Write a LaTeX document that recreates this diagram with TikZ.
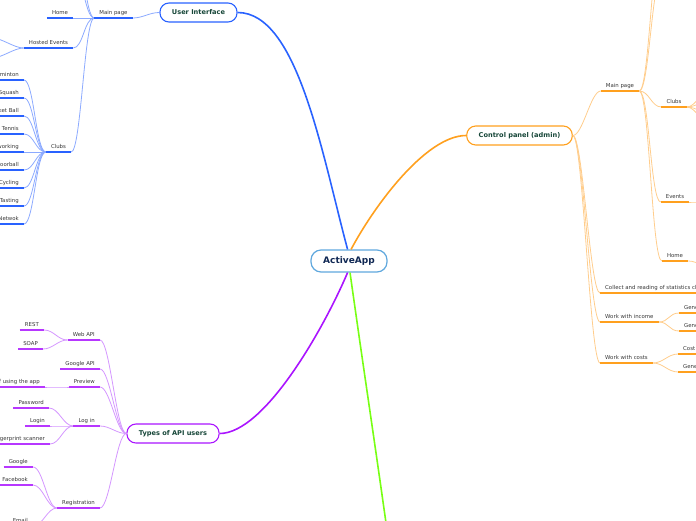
\documentclass[tikz,border=0pt]{standalone}
\usepackage{fontspec}
\setmainfont{DejaVu Sans}
\usepackage{tikz}
\usetikzlibrary{positioning}
\definecolor{rootblue}{RGB}{96,168,222}
\definecolor{navytext}{RGB}{16,40,84}
\definecolor{topicgreen}{RGB}{22,70,56}
\definecolor{leafgray}{RGB}{55,55,55}
\definecolor{uiblue}{RGB}{41,98,255}
\definecolor{uilight}{RGB}{140,170,255}
\definecolor{adminorange}{RGB}{255,160,30}
\definecolor{adminlight}{RGB}{255,205,140}
\definecolor{apipurple}{RGB}{170,20,255}
\definecolor{apilight}{RGB}{212,150,255}
\definecolor{limegreen}{RGB}{120,255,20}

\begin{document}
\begin{tikzpicture}[x=1pt,y=-1pt]
  \tikzstyle{root} = [rectangle, rounded corners=10pt, minimum width=76pt, minimum height=22pt, draw=rootblue, line width=1.2pt, fill=white, text=navytext, font=\fontsize{9}{10}\selectfont\bfseries]
  \tikzstyle{topic} = [rectangle, rounded corners=9pt, minimum height=19pt, inner xsep=12pt, line width=1.1pt, fill=white, text=topicgreen, font=\fontsize{6.6}{7}\selectfont\bfseries]
  \tikzstyle{leaf} = [anchor=south, inner xsep=5pt, inner ysep=2pt, text height=4.2pt, text depth=1.3pt, text=leafgray, font=\fontsize{5.4}{6}\selectfont]
  \tikzstyle{branch} = [line width=1.6pt]
  \tikzstyle{link} = [line width=0.8pt, distance=10pt]
  \tikzstyle{uline} = [line width=1.6pt]

  \useasboundingbox (0,0) rectangle (696,520);
  \clip (0,0) rectangle (696,520);

  \node (app) [root] at (349,261) {ActiveApp};
  \node (ui) [topic, draw=uiblue] at (198.5,12.5) {User Interface};
  \node (ctrl) [topic, draw=adminorange] at (519.5,135.5) {Control panel (admin)};
  \node (api) [topic, draw=apipurple] at (173,433.5) {Types of API users};
  \coordinate (more) at (387,530);

  \draw [branch, uiblue] (app.97) to[out=105, in=0, out distance=100pt, in distance=60pt] (ui.east);
  \draw [branch, adminorange] (app.80) to[out=62, in=180, out distance=50pt, in distance=40pt] (ctrl.west);
  \draw [branch, apipurple] (app.-97) to[out=-113, in=0, out distance=60pt, in distance=45pt] (api.east);
  \draw [branch, limegreen] (app.-85) to[out=-82, in=98] (more);

  % user interface
  \node (uimain) [leaf] at (113.5,18) {Main page};
  \node (uihome) [leaf] at (60,18) {Home};
  \node (uihosted) [leaf] at (48.5,48) {Hosted Events};
  \node (uiclubs) [leaf] at (58.5,152) {Clubs};
  \node (badminton) [leaf, anchor=south east] at (24,80) {Badminton};
  \node (squash) [leaf, anchor=south east] at (24,98) {Squash};
  \node (basket) [leaf, anchor=south east] at (24,116) {Basket Ball};
  \node (tennis) [leaf, anchor=south east] at (24,134) {Table Tennis};
  \node (networking) [leaf, anchor=south east] at (24,152) {Networking};
  \node (football) [leaf, anchor=south east] at (24,170) {Foorball};
  \node (cycling) [leaf, anchor=south east] at (24,188) {Cycling};
  \node (tasting) [leaf, anchor=south east] at (24,206) {Tasting};
  \node (netwok) [leaf, anchor=south east] at (24,224) {Netwok};
  \coordinate (uiup1) at (72,-35);
  \coordinate (uiup2) at (72,-70);
  \coordinate (hostA) at (-8,38);
  \coordinate (hostB) at (-8,58);

  \draw [link, uilight] (ui.west) to[out=180, in=0] (uimain.south east);
  \foreach \n in {uihome, uihosted, uiclubs}
    \draw [link, uilight] (uimain.south west) to[out=180, in=0] (\n.south east);
  \foreach \n in {uiup1, uiup2}
    \draw [link, uilight] (uimain.south west) to[out=180, in=0] (\n);
  \foreach \n in {hostA, hostB}
    \draw [link, uilight] (uihosted.south west) to[out=180, in=0] (\n);
  \foreach \n in {badminton, squash, basket, tennis, networking, football, cycling, tasting, netwok}
    \draw [link, uilight] (uiclubs.south west) to[out=180, in=0] (\n.south east);
  \foreach \n in {uimain, uihome, uihosted, uiclubs, badminton, squash, basket, tennis, networking, football, cycling, tasting, netwok}
    \draw [uline, uiblue] (\n.south west) -- (\n.south east);

  % control panel
  \node (cpmain) [leaf] at (620,91) {Main page};
  \node (cpclubs) [leaf] at (674,107) {Clubs};
  \node (events) [leaf] at (675,202) {Events};
  \node (cphome) [leaf] at (675,261) {Home};
  \node (stats) [leaf, anchor=south west] at (600,293) {Collect and reading of statistics clubs};
  \node (income) [leaf, anchor=south west] at (600,322) {Work with income};
  \node (costs) [leaf, anchor=south west] at (600,363) {Work with costs};
  \node (incomeA) [leaf, anchor=south west] at (679,313) {General income};
  \node (incomeB) [leaf, anchor=south west] at (679,331) {General report};
  \node (costsA) [leaf, anchor=south west] at (678,354) {Cost of clubs};
  \node (costsB) [leaf, anchor=south west] at (678,372) {General costs};
  \coordinate (cpup1) at (662,-25);
  \coordinate (cpup2) at (662,-60);
  \coordinate (clubsA) at (712,88);
  \coordinate (clubsB) at (712,100);
  \coordinate (clubsC) at (712,114);
  \coordinate (clubsD) at (712,126);
  \coordinate (eventsnext) at (712,202);
  \coordinate (homenext) at (712,268);

  \foreach \n in {cpmain, stats, income, costs}
    \draw [link, adminlight] (ctrl.east) to[out=0, in=180] (\n.south west);
  \foreach \n in {cpclubs, events, cphome}
    \draw [link, adminlight] (cpmain.south east) to[out=0, in=180] (\n.south west);
  \foreach \n in {cpup1, cpup2}
    \draw [link, adminlight] (cpmain.south east) to[out=0, in=180] (\n);
  \foreach \n in {clubsA, clubsB, clubsC, clubsD}
    \draw [link, adminlight] (cpclubs.south east) to[out=0, in=180] (\n);
  \draw [link, adminlight] (events.south east) to[out=0, in=180] (eventsnext);
  \draw [link, adminlight] (cphome.south east) to[out=0, in=180] (homenext);
  \foreach \n in {incomeA, incomeB}
    \draw [link, adminlight] (income.south east) to[out=0, in=180] (\n.south west);
  \foreach \n in {costsA, costsB}
    \draw [link, adminlight] (costs.south east) to[out=0, in=180] (\n.south west);
  \foreach \n in {cpmain, cpclubs, events, cphome, stats, income, costs, incomeA, incomeB, costsA, costsB}
    \draw [uline, adminorange] (\n.south west) -- (\n.south east);

  % api users
  \node (webapi) [leaf, anchor=south east] at (100,340) {Web API};
  \node (googleapi) [leaf, anchor=south east] at (100,369) {Google API};
  \node (preview) [leaf, anchor=south east] at (100,387) {Preview};
  \node (apilogin) [leaf, anchor=south east] at (100,426) {Log in};
  \node (registration) [leaf, anchor=south east] at (100,508) {Registration};
  \node (rest) [leaf, anchor=south east] at (44,330) {REST};
  \node (soap) [leaf, anchor=south east] at (43,349) {SOAP};
  \node (review) [leaf, anchor=south east] at (45,387) {Review of using the app};
  \node (password) [leaf, anchor=south east] at (49,408) {Password};
  \node (loginname) [leaf, anchor=south east] at (50,426) {Login};
  \node (fingerprint) [leaf, anchor=south east] at (50,444) {Fingerprint scanner};
  \node (google) [leaf, anchor=south east] at (33,467) {Google};
  \node (facebook) [leaf, anchor=south east] at (33,485) {Facebook};
  \node (email) [leaf, anchor=south east] at (33,526) {Email};

  \foreach \n in {webapi, googleapi, preview, apilogin, registration}
    \draw [link, apilight] (api.west) to[out=180, in=0] (\n.south east);
  \foreach \n in {rest, soap}
    \draw [link, apilight] (webapi.south west) to[out=180, in=0] (\n.south east);
  \draw [link, apilight] (preview.south west) to[out=180, in=0] (review.south east);
  \foreach \n in {password, loginname, fingerprint}
    \draw [link, apilight] (apilogin.south west) to[out=180, in=0] (\n.south east);
  \foreach \n in {google, facebook, email}
    \draw [link, apilight] (registration.south west) to[out=180, in=0] (\n.south east);
  \foreach \n in {webapi, googleapi, preview, apilogin, registration, rest, soap, review, password, loginname, fingerprint, google, facebook, email}
    \draw [uline, apipurple!85] (\n.south west) -- (\n.south east);
\end{tikzpicture}
\end{document}
